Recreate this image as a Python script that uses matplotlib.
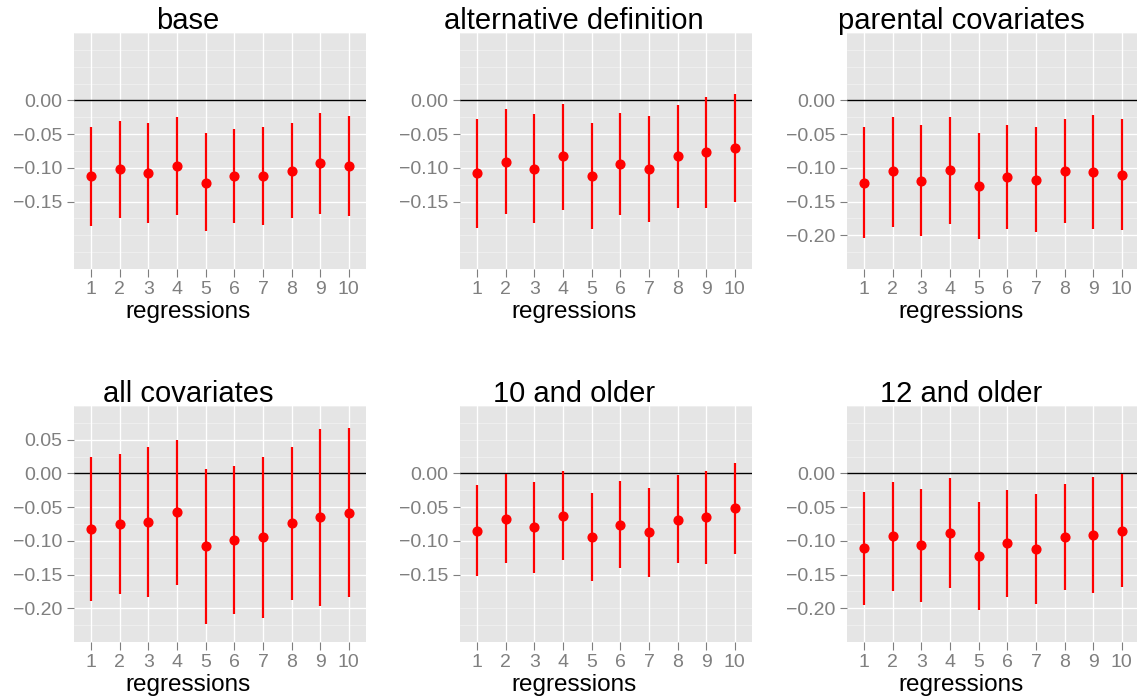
import numpy as np
import matplotlib
matplotlib.use("Agg")
import matplotlib.pyplot as plt

plt.rcParams['font.family'] = ['Liberation Sans', 'DejaVu Sans']

# regressions 1..10 on x axis
regressions = list(range(1, 11))

# point estimates and interval bounds per panel
titles = ["base", "alternative definition", "parental covariates",
          "all covariates", "10 and older", "12 and older"]

base_est = [-0.112, -0.102, -0.107, -0.097, -0.122, -0.112, -0.112, -0.104, -0.093, -0.097]
base_lo = [-0.186, -0.175, -0.182, -0.170, -0.193, -0.182, -0.185, -0.175, -0.169, -0.171]
base_hi = [-0.039, -0.030, -0.033, -0.025, -0.049, -0.042, -0.040, -0.033, -0.018, -0.023]

alt_est = [-0.107, -0.091, -0.101, -0.083, -0.112, -0.095, -0.101, -0.083, -0.077, -0.070]
alt_lo = [-0.189, -0.169, -0.182, -0.162, -0.190, -0.170, -0.180, -0.160, -0.160, -0.150]
alt_hi = [-0.027, -0.012, -0.020, -0.005, -0.034, -0.018, -0.023, -0.007, 0.005, 0.010]

par_est = [-0.122, -0.105, -0.119, -0.103, -0.127, -0.114, -0.118, -0.105, -0.106, -0.110]
par_lo = [-0.204, -0.187, -0.201, -0.183, -0.206, -0.191, -0.195, -0.182, -0.191, -0.192]
par_hi = [-0.039, -0.025, -0.036, -0.024, -0.048, -0.036, -0.039, -0.028, -0.021, -0.027]

all_est = [-0.082, -0.075, -0.072, -0.057, -0.108, -0.099, -0.095, -0.074, -0.065, -0.058]
all_lo = [-0.189, -0.179, -0.183, -0.165, -0.224, -0.209, -0.214, -0.188, -0.197, -0.184]
all_hi = [0.025, 0.029, 0.039, 0.050, 0.007, 0.011, 0.024, 0.039, 0.066, 0.068]

o10_est = [-0.085, -0.067, -0.080, -0.063, -0.094, -0.076, -0.087, -0.069, -0.065, -0.051]
o10_lo = [-0.152, -0.133, -0.148, -0.129, -0.160, -0.140, -0.153, -0.133, -0.134, -0.119]
o10_hi = [-0.017, -0.001, -0.012, 0.003, -0.029, -0.011, -0.021, -0.003, 0.003, 0.016]

o12_est = [-0.111, -0.093, -0.106, -0.088, -0.122, -0.103, -0.112, -0.094, -0.092, -0.085]
o12_lo = [-0.195, -0.174, -0.190, -0.170, -0.203, -0.183, -0.193, -0.173, -0.178, -0.168]
o12_hi = [-0.028, -0.012, -0.023, -0.007, -0.042, -0.025, -0.031, -0.016, -0.005, -0.001]

# labelled y ticks per panel
yticks = [
    [0.00, -0.05, -0.10, -0.15],
    [0.00, -0.05, -0.10, -0.15],
    [0.00, -0.05, -0.10, -0.15, -0.20],
    [0.05, 0.00, -0.05, -0.10, -0.15, -0.20],
    [0.00, -0.05, -0.10, -0.15],
    [0.00, -0.05, -0.10, -0.15, -0.20],
]

panels = [
    (base_est, base_lo, base_hi),
    (alt_est, alt_lo, alt_hi),
    (par_est, par_lo, par_hi),
    (all_est, all_lo, all_hi),
    (o10_est, o10_lo, o10_hi),
    (o12_est, o12_lo, o12_hi),
]

W, H = 1137, 700
fig = plt.figure(figsize=(W / 100, H / 100), dpi=100)

col_x = [74, 460, 847]
row_y = [33, 406]
pw, ph = 292, 236

for i, (est, lo, hi) in enumerate(panels):
    r, c = divmod(i, 3)
    x0, y0 = col_x[c], row_y[r]
    ax = fig.add_axes([x0 / W, 1 - (y0 + ph) / H, pw / W, ph / H])
    ax.set_facecolor('#E5E5E5')
    for s in ax.spines.values():
        s.set_visible(False)

    ax.set_xlim(0.4, 10.6)
    ax.set_ylim(-0.25, 0.10)

    # grid lines
    for v in np.arange(-0.25, 0.1001, 0.025):
        if not any(abs(v - t) < 1e-6 for t in yticks[i]):
            ax.axhline(v, color='#F2F2F2', lw=0.5, zorder=0)
    for t in yticks[i]:
        ax.axhline(t, color='white', lw=0.95, zorder=0)
    for x in regressions:
        ax.axvline(x, color='white', lw=0.95, zorder=0)

    ax.axhline(0, color='black', lw=1.0, zorder=1)

    ax.vlines(regressions, lo, hi, color='red', lw=1.6, zorder=2)
    ax.plot(regressions, est, 'o', color='red', ms=6.3, mec='red', zorder=3)

    ax.set_xticks(regressions)
    ax.set_xticklabels([str(x) for x in regressions])
    ax.set_yticks(yticks[i])
    ax.set_yticklabels([f"{t:.2f}".replace('-', '\u2212') for t in yticks[i]])
    ax.tick_params(axis='x', length=5.8, width=0.8, color='#7F7F7F',
                   labelcolor='#7F7F7F', labelsize=14, pad=3)
    ax.tick_params(axis='y', length=5.3, width=0.8, color='#7F7F7F',
                   labelcolor='#7F7F7F', labelsize=14, pad=3)

    cx = x0 + 114
    fig.text(cx / W, 1 - (y0 - 12) / H, titles[i], ha='center', va='center',
             fontsize=21, color='black')
    fig.text(cx / W, 1 - (y0 + 279) / H, "regressions", ha='center',
             va='center', fontsize=17.5, color='black')

fig.savefig("out.png", dpi=100, facecolor='white')
